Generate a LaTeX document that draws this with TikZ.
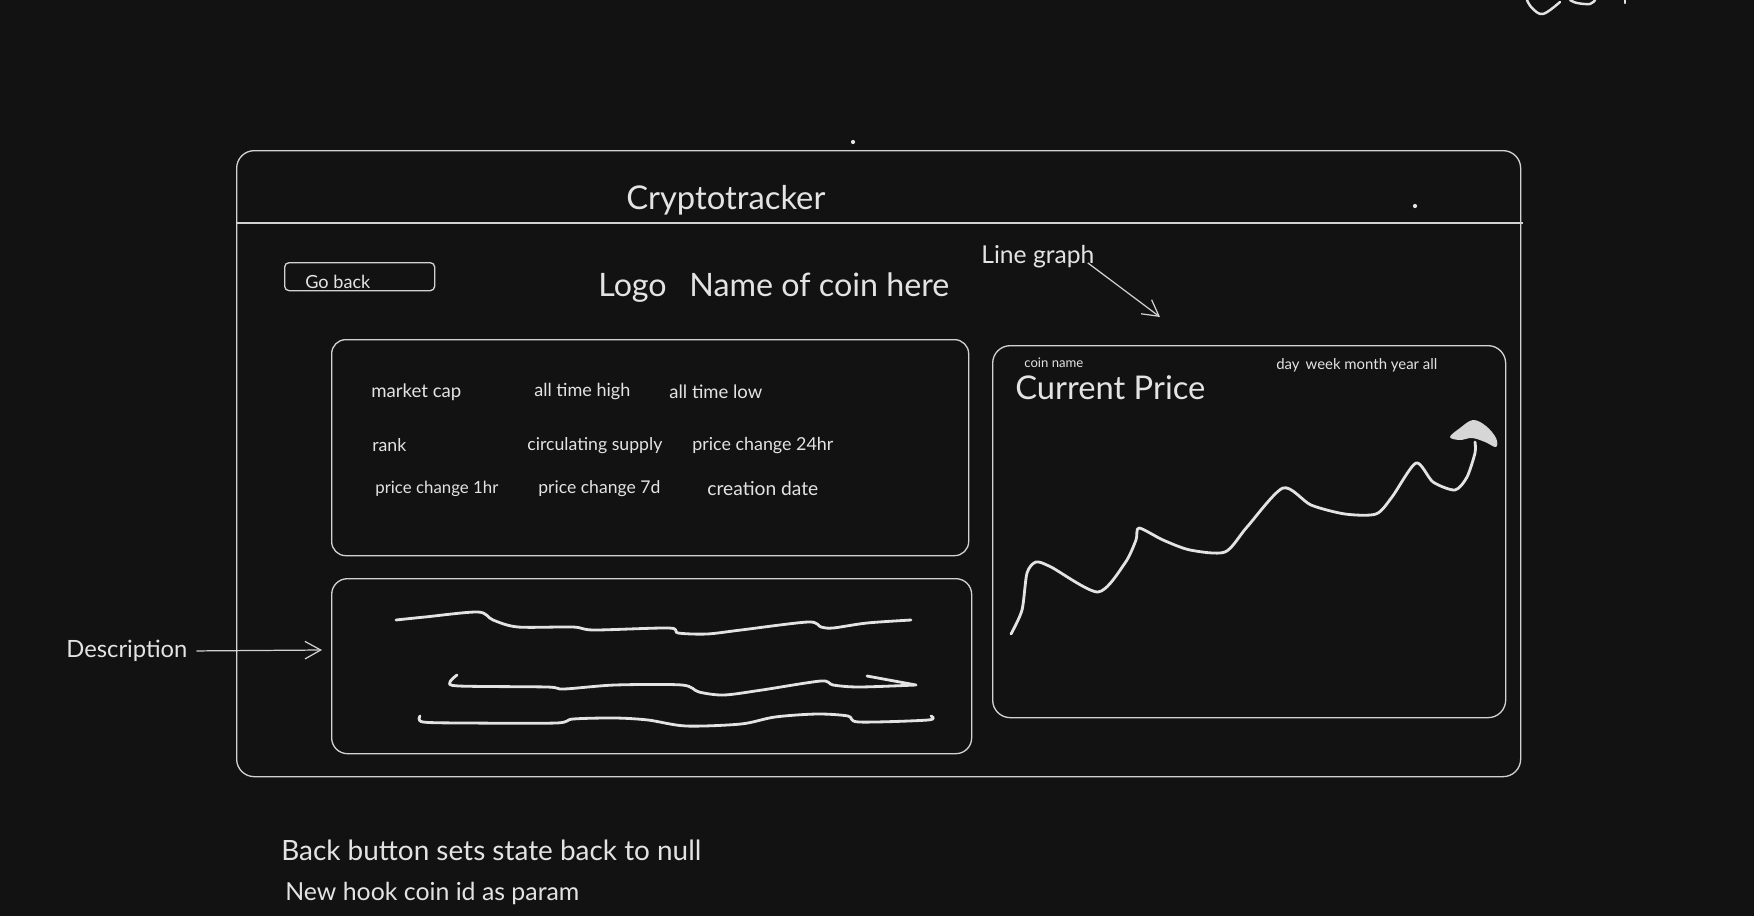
\documentclass[tikz,border=0pt]{standalone}
\usepackage{fontspec}
\setmainfont{Lato}
\usetikzlibrary{arrows.meta}
\definecolor{bg}{HTML}{121212}
\definecolor{ink}{HTML}{E3E3E3}
\definecolor{edge}{HTML}{D2D2D2}
\definecolor{blob}{HTML}{D6D6D6}
\newlength\pxu
\setlength\pxu{0.02cm}
\newcommand{\fitw}[2]{\resizebox{#1\pxu}{!}{#2}}
\begin{document}
\begin{tikzpicture}[x=0.02cm,y=-0.02cm,
  box/.style={draw=edge, line width=0.75pt, anchor=north west, inner sep=0pt},
  lbl/.style={text=ink, inner sep=0pt, anchor=west, yshift=-1.1pt},
  squig/.style={draw=ink, line width=1.6pt, line cap=round, line join=round},
  pointer/.style={draw=edge, line width=0.7pt, -{Straight Barb[length=9pt,width=10pt]}}]
\fill[bg] (0,0) rectangle (1754,916);
\useasboundingbox (0,0) rectangle (1754,916);

% outer frame and header
\node[box, rounded corners=10pt, minimum width=1284\pxu, minimum height=626\pxu] (frame) at (236,150) {};
\draw[edge, line width=0.9pt] (236,223) -- (1523,223);
\node[lbl] (title) at (626,198) {\fitw{199}{Cryptotracker}};

% small dots
\fill[ink] (853,142) circle (1.2pt);
\fill[ink] (1415,206) circle (1.2pt);

% go back button
\node[box, rounded corners=2.5pt, minimum width=150\pxu, minimum height=28\pxu] (goback) at (284,262) {};
\node[lbl] (gobacktxt) at (305,280) {\fitw{65}{Go back}};

% coin heading
\node[lbl] (coinhead) at (598,286) {\fitw{351}{Logo\hspace{0.7em}Name of coin here}};

% stats box
\node[box, rounded corners=8pt, minimum width=637\pxu, minimum height=216\pxu] (stats) at (331,339) {};
\node[lbl] (s1) at (371,390) {\fitw{90}{market cap}};
\node[lbl] (s2) at (534,390) {\fitw{96}{all time high}};
\node[lbl] (s3) at (669,390) {\fitw{93}{all time low}};
\node[lbl] (s4) at (372,443) {\fitw{34}{rank}};
\node[lbl] (s5) at (527,443.5) {\fitw{135}{circulating supply}};
\node[lbl] (s6) at (692,443.5) {\fitw{141}{price change 24hr}};
\node[lbl] (s7) at (375,487) {\fitw{123}{price change 1hr}};
\node[lbl] (s8) at (538,487) {\fitw{122}{price change 7d}};
\node[lbl] (s9) at (707,487) {\fitw{111}{creation date}};

% description box
\node[box, rounded corners=9pt, minimum width=640\pxu, minimum height=175\pxu] (desc) at (331,578) {};
\draw[squig] plot[smooth, tension=0.5] coordinates {(396,620) (425,617) (478,612) (493,620) (518,627) (573,627) (594,630) (669,628) (678,633) (707,634) (741,630) (808,622) (821,627) (833,628) (867,623) (911,620)};
\draw[squig] plot[smooth, tension=0.5] coordinates {(457,675) (450,682) (459,686) (547,687) (564,689) (615,685) (682,685) (699,692) (724,695) (762,690) (821,681) (833,685) (859,687) (916,685)} -- (867,676);
\draw[squig] plot[smooth, tension=0.5] coordinates {(420,716) (423,722) (467,723) (556,723) (573,719) (615,718) (648,720) (686,726) (741,724) (775,717) (817,714) (848,716) (859,722) (928,720) (931,716)};

% description label and arrow
\node[lbl] (desclabel) at (66,649) {\fitw{121}{Description}};
\coordinate (descend) at (322,650);
\draw[pointer] ([xshift=5pt]desclabel.east) -- (descend);

% chart box
\node[box, rounded corners=10pt, minimum width=513\pxu, minimum height=372\pxu] (chart) at (992,345) {};
\node[lbl] (coinname) at (1024,361) {\fitw{59}{coin name}};
\node[lbl] (ranges) at (1276,363.5) {\fitw{161}{day\hspace{0.4em}week month year all}};
\node[lbl] (price) at (1015,386) {\fitw{190}{Current Price}};
\draw[squig] plot[smooth, tension=0.45] coordinates {(1011,634) (1022,610) (1027,573) (1036,562) (1051,567) (1098,592) (1125,563) (1136,540) (1139,528) (1163,540) (1190,550) (1225,552) (1247,527) (1283,488) (1311,505) (1345,514) (1376,514) (1392,497) (1416,463) (1433,482) (1455,490) (1467,477) (1475,453) (1475,442)};
\fill[blob] plot[smooth cycle, tension=0.6] coordinates {(1450,437) (1460,428) (1473,420) (1486,426) (1496,438) (1496,447) (1485,442) (1472,438) (1460,440)};

% line graph label and arrow
\node[lbl] (linegraph) at (981,254.5) {\fitw{113}{Line graph}};
\coordinate (lgend) at (1160,317);
\draw[pointer] ([xshift=-4pt,yshift=3pt]linegraph.south east) -- (lgend);

% notes
\node[lbl] (note1) at (281,848) {\fitw{420}{Back button sets state back to null}};
\node[lbl] (note2) at (285,892) {\fitw{294}{New hook coin id as param}};

% partial sketch at top right edge
\draw[squig, line width=1.4pt] plot[smooth, tension=0.6] coordinates {(1527,0) (1532,8) (1543,14) (1560,2)};
\draw[squig, line width=1.4pt] plot[smooth, tension=0.6] coordinates {(1570,0) (1577,3) (1590,4) (1595,0)};
\draw[squig, line width=1.2pt] (1625,0) -- (1625,3);
\end{tikzpicture}
\end{document}
